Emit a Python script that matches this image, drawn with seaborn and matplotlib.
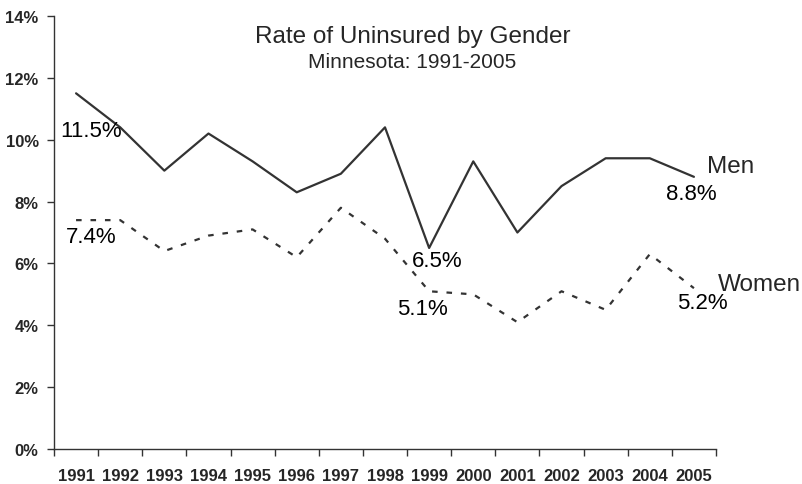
import numpy as np
import pandas as pd
import seaborn as sns
import matplotlib.pyplot as plt
from matplotlib.ticker import FixedLocator, FuncFormatter

years = list(range(1991, 2006))
men = [11.5, 10.4, 9.0, 10.2, 9.3, 8.3, 8.9, 10.4, 6.5, 9.3, 7.0, 8.5, 9.4, 9.4, 8.8]
women = [7.4, 7.4, 6.4, 6.9, 7.1, 6.2, 7.8, 6.8, 5.1, 5.0, 4.1, 5.1, 4.5, 6.3, 5.2]

# labelled points: (year, text, x offset px, y offset px)
men_labels = [(1991, "11.5%", 15, -37), (1999, "6.5%", 8, -13), (2005, "8.8%", -3, -17)]
women_labels = [(1991, "7.4%", 15, -16), (1999, "5.1%", -7, -17), (2005, "5.2%", 8, -14)]

df = pd.DataFrame({"year": years * 2,
                   "rate": men + women,
                   "sex": ["Men"] * len(years) + ["Women"] * len(years)})

sns.set_style("white")
plt.rcParams["font.family"] = ["Liberation Sans", "DejaVu Sans"]

fig = plt.figure(figsize=(8.02, 4.85), dpi=100)
ax = fig.add_axes([54 / 802, 1 - 450 / 485, 662 / 802, 433 / 485])

line_col = "#333333"
sns.lineplot(data=df, x="year", y="rate", style="sex", color=line_col,
             dashes={"Men": "", "Women": (2.5, 4)}, linewidth=1.6,
             legend=False, ax=ax)

ax.set_xlim(1990.5, 2005.5)
ax.set_ylim(0, 14)
ax.set_xlabel("")
ax.set_ylabel("")

# x ticks between categories, labels centred
ax.xaxis.set_major_locator(FixedLocator(np.arange(1990.5, 2006, 1)))
ax.xaxis.set_major_formatter(FuncFormatter(lambda v, p: ""))
ax.xaxis.set_minor_locator(FixedLocator(years))
ax.xaxis.set_minor_formatter(FuncFormatter(lambda v, p: str(int(round(v)))))
ax.tick_params(axis="x", which="major", bottom=True, direction="out", length=5, width=1, color=line_col)
ax.tick_params(axis="x", which="minor", bottom=True, length=0, pad=14, labelsize=12)
for lbl in ax.get_xticklabels(minor=True):
    lbl.set_fontweight("bold")

ax.set_yticks(range(0, 15, 2))
ax.yaxis.set_major_formatter(FuncFormatter(lambda v, p: f"{int(v)}%"))
ax.tick_params(axis="y", left=True, direction="out", length=5, width=1, color=line_col,
               labelsize=12, pad=6)
for lbl in ax.get_yticklabels():
    lbl.set_fontweight("bold")

sns.despine(ax=ax)
for s in ["left", "bottom"]:
    ax.spines[s].set_color(line_col)
    ax.spines[s].set_linewidth(1)

for yr, txt, dx, dy in men_labels:
    ax.annotate(txt, (yr, men[years.index(yr)]), xytext=(dx, dy), textcoords="offset pixels",
                ha="center", va="center", fontsize=16, color="black")
for yr, txt, dx, dy in women_labels:
    ax.annotate(txt, (yr, women[years.index(yr)]), xytext=(dx, dy), textcoords="offset pixels",
                ha="center", va="center", fontsize=16, color="black")

ax.annotate("Men", (2005, men[-1]), xytext=(13, 11), textcoords="offset pixels",
            ha="left", va="center", fontsize=17.5)
ax.annotate("Women", (2005, women[-1]), xytext=(24, 4), textcoords="offset pixels",
            ha="left", va="center", fontsize=17.5)

fig.text(413 / 802, 1 - 37 / 485, "Rate of Uninsured by Gender", ha="center", va="center", fontsize=17.5)
fig.text(412 / 802, 1 - 63 / 485, "Minnesota: 1991-2005", ha="center", va="center", fontsize=15)

fig.savefig("out.png", dpi=100)
